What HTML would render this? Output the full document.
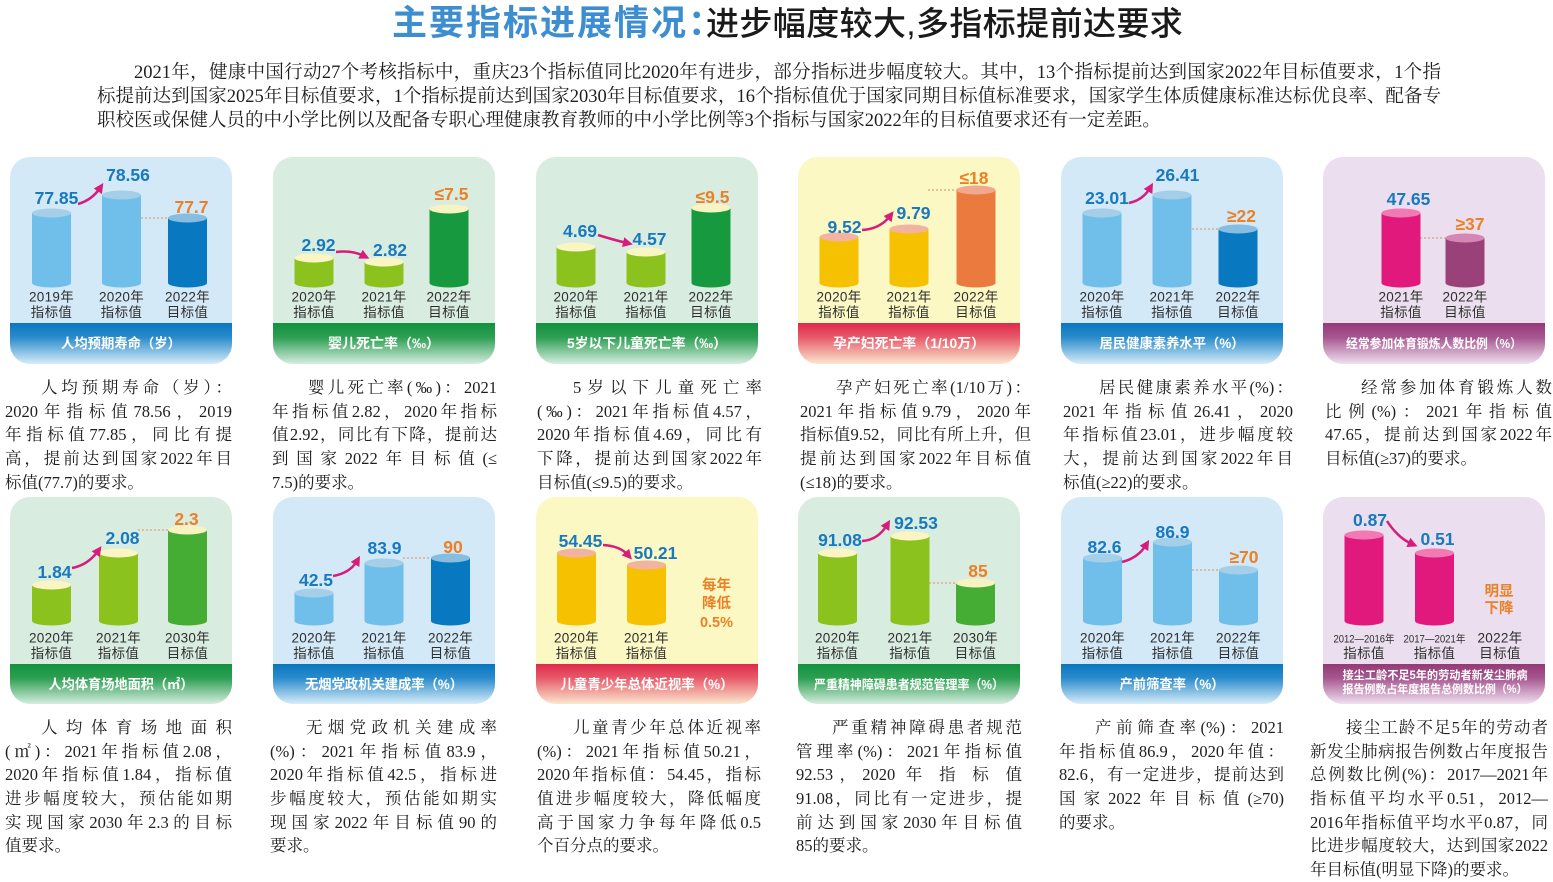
<!DOCTYPE html>
<html lang="zh-CN">
<head>
<meta charset="utf-8">
<style>
html,body{margin:0;padding:0;background:#fff;}
body{width:1553px;height:879px;position:relative;overflow:hidden;}
svg{position:absolute;left:0;top:0;}
.t1{position:absolute;left:392px;top:-3px;font-family:"Noto Sans CJK SC",sans-serif;font-weight:700;font-size:35px;line-height:48px;color:#3d8ed0;letter-spacing:2px;white-space:nowrap;}
.t2{position:absolute;left:706px;top:0px;font-family:"Liberation Sans","Noto Sans CJK SC",sans-serif;font-weight:500;font-size:33px;line-height:48px;color:#1a1a1a;letter-spacing:0.4px;white-space:nowrap;}
.p{position:absolute;left:97px;top:61px;width:1344px;font-size:18.5px;color:#1e1e1e;font-family:"Liberation Serif","Noto Serif CJK SC",serif;}
.ln{height:24px;line-height:24px;white-space:nowrap;text-align:justify;text-align-last:justify;}
.ln.l{text-align-last:left;}
.p .ind{padding-left:37px;}
.col{position:absolute;font-size:16.5px;color:#1e1e1e;font-family:"Liberation Serif","Noto Serif CJK SC",serif;}
.col .ln{height:23.7px;line-height:23.7px;}
.col .ind{padding-left:36px;}
.r1{top:376px;}
.r2{top:716px;}
.ax text{font-family:"Liberation Sans","Noto Sans CJK SC",sans-serif;font-size:13.5px;fill:#2e2e2e;text-anchor:middle;letter-spacing:0.3px;}
.vb,.vo{font-family:"Liberation Sans","Noto Sans CJK SC",sans-serif;font-size:17.5px;font-weight:bold;text-anchor:middle;}
.vb{fill:#1879bf;}
.vo{fill:#ea8127;}
.vc{font-family:"Liberation Sans","Noto Sans CJK SC",sans-serif;font-size:14.5px;font-weight:bold;text-anchor:middle;fill:#ea8127;}
.bn{font-family:"Liberation Sans","Noto Sans CJK SC",sans-serif;font-size:13.5px;font-weight:bold;fill:#fff;text-anchor:middle;}
.dl{stroke:#d9a27c;stroke-width:1.3;stroke-dasharray:2 2;fill:none;}
.ar{stroke:#d81c7c;stroke-width:2.5;fill:none;}
</style>
</head>
<body>
<svg width="1553" height="879" viewBox="0 0 1553 879" xmlns="http://www.w3.org/2000/svg">
<defs>
<linearGradient id="bb" x1="0" y1="0" x2="0" y2="1"><stop offset="0" stop-color="#0a76bf"/><stop offset="0.35" stop-color="#2a8bcc"/><stop offset="1" stop-color="#d8edf9"/></linearGradient>
<linearGradient id="gg" x1="0" y1="0" x2="0" y2="1"><stop offset="0" stop-color="#12913e"/><stop offset="0.35" stop-color="#2d9f52"/><stop offset="1" stop-color="#d6ede0"/></linearGradient>
<linearGradient id="rr" x1="0" y1="0" x2="0" y2="1"><stop offset="0" stop-color="#de2a4b"/><stop offset="0.35" stop-color="#e75a6a"/><stop offset="1" stop-color="#fbe7cf"/></linearGradient>
<linearGradient id="pp" x1="0" y1="0" x2="0" y2="1"><stop offset="0" stop-color="#943a76"/><stop offset="0.35" stop-color="#a65690"/><stop offset="1" stop-color="#f0e1f0"/></linearGradient>
<marker id="ah" markerWidth="10" markerHeight="10" refX="4" refY="5" orient="auto" markerUnits="userSpaceOnUse"><path d="M0,0 L10,5 L0,10 Z" fill="#d81c7c"/></marker>
</defs>

<rect x="10" y="157" width="222" height="207" rx="20" fill="#d4e9f7"/>
<rect x="273" y="157" width="222" height="207" rx="20" fill="#d9ece0"/>
<rect x="536" y="157" width="222" height="207" rx="20" fill="#d9ece0"/>
<rect x="798" y="157" width="222" height="207" rx="20" fill="#fcf8c4"/>
<rect x="1061" y="157" width="222" height="207" rx="20" fill="#d4e9f7"/>
<rect x="1323" y="157" width="222" height="207" rx="20" fill="#ebdeee"/>
<rect x="10" y="497" width="222" height="207" rx="20" fill="#d9ece0"/>
<rect x="273" y="497" width="222" height="207" rx="20" fill="#d4e9f7"/>
<rect x="536" y="497" width="222" height="207" rx="20" fill="#fcf8c4"/>
<rect x="798" y="497" width="222" height="207" rx="20" fill="#d9ece0"/>
<rect x="1061" y="497" width="222" height="207" rx="20" fill="#d4e9f7"/>
<rect x="1323" y="497" width="222" height="207" rx="20" fill="#ebdeee"/>

<path d="M10 323 H232 V344 A20 20 0 0 1 212 364 H30 A20 20 0 0 1 10 344 Z" fill="url(#bb)"/>
<path d="M273 323 H495 V344 A20 20 0 0 1 475 364 H293 A20 20 0 0 1 273 344 Z" fill="url(#gg)"/>
<path d="M536 323 H758 V344 A20 20 0 0 1 738 364 H556 A20 20 0 0 1 536 344 Z" fill="url(#gg)"/>
<path d="M798 323 H1020 V344 A20 20 0 0 1 1000 364 H818 A20 20 0 0 1 798 344 Z" fill="url(#rr)"/>
<path d="M1061 323 H1283 V344 A20 20 0 0 1 1263 364 H1081 A20 20 0 0 1 1061 344 Z" fill="url(#bb)"/>
<path d="M1323 323 H1545 V344 A20 20 0 0 1 1525 364 H1343 A20 20 0 0 1 1323 344 Z" fill="url(#pp)"/>
<path d="M10 664 H232 V684 A20 20 0 0 1 212 704 H30 A20 20 0 0 1 10 684 Z" fill="url(#gg)"/>
<path d="M273 664 H495 V684 A20 20 0 0 1 475 704 H293 A20 20 0 0 1 273 684 Z" fill="url(#bb)"/>
<path d="M536 664 H758 V684 A20 20 0 0 1 738 704 H556 A20 20 0 0 1 536 684 Z" fill="url(#rr)"/>
<path d="M798 664 H1020 V684 A20 20 0 0 1 1000 704 H818 A20 20 0 0 1 798 684 Z" fill="url(#gg)"/>
<path d="M1061 664 H1283 V684 A20 20 0 0 1 1263 704 H1081 A20 20 0 0 1 1061 684 Z" fill="url(#bb)"/>
<path d="M1323 664 H1545 V684 A20 20 0 0 1 1525 704 H1343 A20 20 0 0 1 1323 684 Z" fill="url(#pp)"/>

<text class="bn" x="121" y="348" textLength="120" lengthAdjust="spacingAndGlyphs">人均预期寿命（岁）</text>
<text class="bn" x="384" y="348" textLength="112" lengthAdjust="spacingAndGlyphs">婴儿死亡率（‰）</text>
<text class="bn" x="647" y="348" textLength="160" lengthAdjust="spacingAndGlyphs">5岁以下儿童死亡率（‰）</text>
<text class="bn" x="909" y="348" textLength="152" lengthAdjust="spacingAndGlyphs">孕产妇死亡率（1/10万）</text>
<text class="bn" x="1172" y="348" textLength="145" lengthAdjust="spacingAndGlyphs">居民健康素养水平（%）</text>
<text class="bn" x="1434" y="348" style="font-size:12.5px" textLength="176" lengthAdjust="spacingAndGlyphs">经常参加体育锻炼人数比例（%）</text>
<text class="bn" x="121" y="689" textLength="145" lengthAdjust="spacingAndGlyphs">人均体育场地面积（㎡）</text>
<text class="bn" x="384" y="689" textLength="158" lengthAdjust="spacingAndGlyphs">无烟党政机关建成率（%）</text>
<text class="bn" x="647" y="689" textLength="173" lengthAdjust="spacingAndGlyphs">儿童青少年总体近视率（%）</text>
<text class="bn" x="909" y="689" style="font-size:12.5px" textLength="190" lengthAdjust="spacingAndGlyphs">严重精神障碍患者规范管理率（%）</text>
<text class="bn" x="1172" y="689" textLength="105" lengthAdjust="spacingAndGlyphs">产前筛查率（%）</text>
<text class="bn" x="1435" y="679" style="font-size:11.5px" textLength="185" lengthAdjust="spacingAndGlyphs">接尘工龄不足5年的劳动者新发尘肺病</text>
<text class="bn" x="1435" y="693" style="font-size:11.5px" textLength="185" lengthAdjust="spacingAndGlyphs">报告例数占年度报告总例数比例（%）</text>

<path class="dl" d="M141 218 H168"/>
<path class="dl" d="M928 190 H957"/>
<path class="dl" d="M1192 229 H1219"/>
<path class="dl" d="M1420 238 H1446"/>
<path class="dl" d="M138 530 H168"/>
<path class="dl" d="M403 558 H431"/>
<path class="dl" d="M929 583 H956"/>
<path class="dl" d="M1192 570 H1219"/>

<g>
<rect x="32" y="213" width="39" height="70" fill="#70bfeb"/><ellipse cx="51.5" cy="283" rx="19.5" ry="4.5" fill="#70bfeb"/><ellipse cx="51.5" cy="213" rx="19.5" ry="4.5" fill="#a5cfe8"/>
<rect x="102" y="195" width="39" height="88" fill="#70bfeb"/><ellipse cx="121.5" cy="283" rx="19.5" ry="4.5" fill="#70bfeb"/><ellipse cx="121.5" cy="195" rx="19.5" ry="4.5" fill="#a5cfe8"/>
<rect x="168" y="218" width="39" height="65" fill="#0878c0"/><ellipse cx="187.5" cy="283" rx="19.5" ry="4.5" fill="#0878c0"/><ellipse cx="187.5" cy="218" rx="19.5" ry="4.5" fill="#86bde0"/>

<rect x="294.5" y="258" width="39" height="25" fill="#8bc21e"/><ellipse cx="314" cy="283" rx="19.5" ry="4.5" fill="#8bc21e"/><ellipse cx="314" cy="258" rx="19.5" ry="4.5" fill="#faf5c2"/>
<rect x="364.5" y="262" width="39" height="21" fill="#8bc21e"/><ellipse cx="384" cy="283" rx="19.5" ry="4.5" fill="#8bc21e"/><ellipse cx="384" cy="262" rx="19.5" ry="4.5" fill="#faf5c2"/>
<rect x="429.5" y="209" width="39" height="74" fill="#179a3f"/><ellipse cx="449" cy="283" rx="19.5" ry="4.5" fill="#179a3f"/><ellipse cx="449" cy="209" rx="19.5" ry="4.5" fill="#f7f4c3"/>

<rect x="556.5" y="247" width="39" height="36" fill="#8bc21e"/><ellipse cx="576" cy="283" rx="19.5" ry="4.5" fill="#8bc21e"/><ellipse cx="576" cy="247" rx="19.5" ry="4.5" fill="#faf5c2"/>
<rect x="626.5" y="252" width="39" height="31" fill="#8bc21e"/><ellipse cx="646" cy="283" rx="19.5" ry="4.5" fill="#8bc21e"/><ellipse cx="646" cy="252" rx="19.5" ry="4.5" fill="#faf5c2"/>
<rect x="691.5" y="208" width="39" height="75" fill="#179a3f"/><ellipse cx="711" cy="283" rx="19.5" ry="4.5" fill="#179a3f"/><ellipse cx="711" cy="208" rx="19.5" ry="4.5" fill="#f7f4c3"/>

<rect x="819.5" y="237" width="39" height="46" fill="#f6c100"/><ellipse cx="839" cy="283" rx="19.5" ry="4.5" fill="#f6c100"/><ellipse cx="839" cy="237" rx="19.5" ry="4.5" fill="#f2b3a0"/>
<rect x="889.5" y="229" width="39" height="54" fill="#f6c100"/><ellipse cx="909" cy="283" rx="19.5" ry="4.5" fill="#f6c100"/><ellipse cx="909" cy="229" rx="19.5" ry="4.5" fill="#f2b3a0"/>
<rect x="956.5" y="190" width="39" height="93" fill="#eb7a3f"/><ellipse cx="976" cy="283" rx="19.5" ry="4.5" fill="#eb7a3f"/><ellipse cx="976" cy="190" rx="19.5" ry="4.5" fill="#f2a88c"/>

<rect x="1082.5" y="213" width="39" height="70" fill="#70bfeb"/><ellipse cx="1102" cy="283" rx="19.5" ry="4.5" fill="#70bfeb"/><ellipse cx="1102" cy="213" rx="19.5" ry="4.5" fill="#a5cfe8"/>
<rect x="1152.5" y="195" width="39" height="88" fill="#70bfeb"/><ellipse cx="1172" cy="283" rx="19.5" ry="4.5" fill="#70bfeb"/><ellipse cx="1172" cy="195" rx="19.5" ry="4.5" fill="#a5cfe8"/>
<rect x="1218.5" y="229" width="39" height="54" fill="#0878c0"/><ellipse cx="1238" cy="283" rx="19.5" ry="4.5" fill="#0878c0"/><ellipse cx="1238" cy="229" rx="19.5" ry="4.5" fill="#86bde0"/>

<rect x="1381.5" y="213" width="39" height="70" fill="#e2197c"/><ellipse cx="1401" cy="283" rx="19.5" ry="4.5" fill="#e2197c"/><ellipse cx="1401" cy="213" rx="19.5" ry="4.5" fill="#f17ab4"/>
<rect x="1445.5" y="238" width="39" height="45" fill="#9b417a"/><ellipse cx="1465" cy="283" rx="19.5" ry="4.5" fill="#9b417a"/><ellipse cx="1465" cy="238" rx="19.5" ry="4.5" fill="#d586b5"/>
</g>

<g>
<rect x="32" y="585" width="39" height="36" fill="#8bc21e"/><ellipse cx="51.5" cy="621" rx="19.5" ry="4.5" fill="#8bc21e"/><ellipse cx="51.5" cy="585" rx="19.5" ry="4.5" fill="#faf5c2"/>
<rect x="99" y="553" width="39" height="68" fill="#8bc21e"/><ellipse cx="118.5" cy="621" rx="19.5" ry="4.5" fill="#8bc21e"/><ellipse cx="118.5" cy="553" rx="19.5" ry="4.5" fill="#faf5c2"/>
<rect x="168" y="530" width="39" height="91" fill="#45ac34"/><ellipse cx="187.5" cy="621" rx="19.5" ry="4.5" fill="#45ac34"/><ellipse cx="187.5" cy="530" rx="19.5" ry="4.5" fill="#f6f3c0"/>

<rect x="294.5" y="593" width="39" height="28" fill="#70bfeb"/><ellipse cx="314" cy="621" rx="19.5" ry="4.5" fill="#70bfeb"/><ellipse cx="314" cy="593" rx="19.5" ry="4.5" fill="#a5cfe8"/>
<rect x="364.5" y="563" width="39" height="58" fill="#70bfeb"/><ellipse cx="384" cy="621" rx="19.5" ry="4.5" fill="#70bfeb"/><ellipse cx="384" cy="563" rx="19.5" ry="4.5" fill="#a5cfe8"/>
<rect x="431" y="558" width="39" height="63" fill="#0878c0"/><ellipse cx="450.5" cy="621" rx="19.5" ry="4.5" fill="#0878c0"/><ellipse cx="450.5" cy="558" rx="19.5" ry="4.5" fill="#86bde0"/>

<rect x="557" y="553" width="39" height="68" fill="#f6c100"/><ellipse cx="576.5" cy="621" rx="19.5" ry="4.5" fill="#f6c100"/><ellipse cx="576.5" cy="553" rx="19.5" ry="4.5" fill="#f2b3a0"/>
<rect x="627" y="565" width="39" height="56" fill="#f6c100"/><ellipse cx="646.5" cy="621" rx="19.5" ry="4.5" fill="#f6c100"/><ellipse cx="646.5" cy="565" rx="19.5" ry="4.5" fill="#f2b3a0"/>

<rect x="818" y="553" width="39" height="68" fill="#8bc21e"/><ellipse cx="837.5" cy="621" rx="19.5" ry="4.5" fill="#8bc21e"/><ellipse cx="837.5" cy="553" rx="19.5" ry="4.5" fill="#faf5c2"/>
<rect x="890.5" y="536" width="39" height="85" fill="#8bc21e"/><ellipse cx="910" cy="621" rx="19.5" ry="4.5" fill="#8bc21e"/><ellipse cx="910" cy="536" rx="19.5" ry="4.5" fill="#faf5c2"/>
<rect x="956" y="583" width="39" height="38" fill="#45ac34"/><ellipse cx="975.5" cy="621" rx="19.5" ry="4.5" fill="#45ac34"/><ellipse cx="975.5" cy="583" rx="19.5" ry="4.5" fill="#f6f3c0"/>

<rect x="1083" y="558" width="39" height="63" fill="#70bfeb"/><ellipse cx="1102.5" cy="621" rx="19.5" ry="4.5" fill="#70bfeb"/><ellipse cx="1102.5" cy="558" rx="19.5" ry="4.5" fill="#a5cfe8"/>
<rect x="1153" y="542" width="39" height="79" fill="#70bfeb"/><ellipse cx="1172.5" cy="621" rx="19.5" ry="4.5" fill="#70bfeb"/><ellipse cx="1172.5" cy="542" rx="19.5" ry="4.5" fill="#a5cfe8"/>
<rect x="1219" y="570" width="39" height="51" fill="#70bfeb"/><ellipse cx="1238.5" cy="621" rx="19.5" ry="4.5" fill="#70bfeb"/><ellipse cx="1238.5" cy="570" rx="19.5" ry="4.5" fill="#a5cfe8"/>

<rect x="1344.5" y="535" width="39" height="86" fill="#e2197c"/><ellipse cx="1364" cy="621" rx="19.5" ry="4.5" fill="#e2197c"/><ellipse cx="1364" cy="535" rx="19.5" ry="4.5" fill="#f17ab4"/>
<rect x="1415" y="553" width="39" height="68" fill="#e2197c"/><ellipse cx="1434.5" cy="621" rx="19.5" ry="4.5" fill="#e2197c"/><ellipse cx="1434.5" cy="553" rx="19.5" ry="4.5" fill="#f17ab4"/>
</g>

<path class="ar" d="M78 204 Q92 200 100 188" marker-end="url(#ah)"/>
<path class="ar" d="M336 252 Q352 250 364 256" marker-end="url(#ah)"/>
<path class="ar" d="M598 235 Q614 240 627 243" marker-end="url(#ah)"/>
<path class="ar" d="M862 230 Q880 229 890 216" marker-end="url(#ah)"/>
<path class="ar" d="M1129 203 Q1143 200 1150 188" marker-end="url(#ah)"/>
<path class="ar" d="M72 568 Q88 565 98 551" marker-end="url(#ah)"/>
<path class="ar" d="M333 576 Q350 573 357 561" marker-end="url(#ah)"/>
<path class="ar" d="M603 545 Q620 546 628 555" marker-end="url(#ah)"/>
<path class="ar" d="M862 541 Q878 540 887 525" marker-end="url(#ah)"/>
<path class="ar" d="M1122 562 Q1138 558 1146 545" marker-end="url(#ah)"/>
<path class="ar" d="M1387 521 Q1398 538 1412 544" marker-end="url(#ah)"/>

<text class="vb" x="56.5" y="204">77.85</text>
<text class="vb" x="128" y="181">78.56</text>
<text class="vo" x="191.5" y="213">77.7</text>

<text class="vb" x="318.5" y="251">2.92</text>
<text class="vb" x="390" y="256">2.82</text>
<text class="vo" x="451.5" y="200">≤7.5</text>

<text class="vb" x="580" y="237">4.69</text>
<text class="vb" x="649.5" y="245">4.57</text>
<text class="vo" x="712.5" y="203">≤9.5</text>

<text class="vb" x="844.5" y="233">9.52</text>
<text class="vb" x="913.5" y="219">9.79</text>
<text class="vo" x="974" y="184">≤18</text>

<text class="vb" x="1107" y="204">23.01</text>
<text class="vb" x="1177.5" y="181">26.41</text>
<text class="vo" x="1241.5" y="222">≥22</text>

<text class="vb" x="1408.5" y="205">47.65</text>
<text class="vo" x="1470" y="230">≥37</text>

<text class="vb" x="54.5" y="578">1.84</text>
<text class="vb" x="122.5" y="544">2.08</text>
<text class="vo" x="186.5" y="525">2.3</text>

<text class="vb" x="316" y="586">42.5</text>
<text class="vb" x="384.5" y="554">83.9</text>
<text class="vo" x="453" y="553">90</text>

<text class="vb" x="580.5" y="547">54.45</text>
<text class="vb" x="655.5" y="559">50.21</text>
<text class="vc" x="716.5" y="590">每年</text>
<text class="vc" x="716.5" y="608">降低</text>
<text class="vc" x="716.5" y="627">0.5%</text>

<text class="vb" x="840" y="546">91.08</text>
<text class="vb" x="916" y="529">92.53</text>
<text class="vo" x="978" y="577">85</text>

<text class="vb" x="1104.5" y="553">82.6</text>
<text class="vb" x="1172.5" y="538">86.9</text>
<text class="vo" x="1244" y="563">≥70</text>

<text class="vb" x="1370" y="526">0.87</text>
<text class="vb" x="1437.5" y="545">0.51</text>
<text class="vc" x="1499" y="596">明显</text>
<text class="vc" x="1499" y="613">下降</text>

<g class="ax">
<text x="51.5" y="301.5">2019年</text><text x="51.5" y="317">指标值</text>
<text x="121.5" y="301.5">2020年</text><text x="121.5" y="317">指标值</text>
<text x="187.5" y="301.5">2022年</text><text x="187.5" y="317">目标值</text>

<text x="314" y="301.5">2020年</text><text x="314" y="317">指标值</text>
<text x="384" y="301.5">2021年</text><text x="384" y="317">指标值</text>
<text x="449" y="301.5">2022年</text><text x="449" y="317">目标值</text>

<text x="576" y="301.5">2020年</text><text x="576" y="317">指标值</text>
<text x="646" y="301.5">2021年</text><text x="646" y="317">指标值</text>
<text x="711" y="301.5">2022年</text><text x="711" y="317">目标值</text>

<text x="839" y="301.5">2020年</text><text x="839" y="317">指标值</text>
<text x="909" y="301.5">2021年</text><text x="909" y="317">指标值</text>
<text x="976" y="301.5">2022年</text><text x="976" y="317">目标值</text>

<text x="1102" y="301.5">2020年</text><text x="1102" y="317">指标值</text>
<text x="1172" y="301.5">2021年</text><text x="1172" y="317">指标值</text>
<text x="1238" y="301.5">2022年</text><text x="1238" y="317">目标值</text>

<text x="1401" y="301.5">2021年</text><text x="1401" y="317">指标值</text>
<text x="1465" y="301.5">2022年</text><text x="1465" y="317">目标值</text>
</g>

<g class="ax">
<text x="51.5" y="642.5">2020年</text><text x="51.5" y="658">指标值</text>
<text x="118.5" y="642.5">2021年</text><text x="118.5" y="658">指标值</text>
<text x="187.5" y="642.5">2030年</text><text x="187.5" y="658">目标值</text>

<text x="314" y="642.5">2020年</text><text x="314" y="658">指标值</text>
<text x="384" y="642.5">2021年</text><text x="384" y="658">指标值</text>
<text x="450.5" y="642.5">2022年</text><text x="450.5" y="658">目标值</text>

<text x="576.5" y="642.5">2020年</text><text x="576.5" y="658">指标值</text>
<text x="646.5" y="642.5">2021年</text><text x="646.5" y="658">指标值</text>

<text x="837.5" y="642.5">2020年</text><text x="837.5" y="658">指标值</text>
<text x="910" y="642.5">2021年</text><text x="910" y="658">指标值</text>
<text x="975.5" y="642.5">2030年</text><text x="975.5" y="658">目标值</text>

<text x="1102.5" y="642.5">2020年</text><text x="1102.5" y="658">指标值</text>
<text x="1172.5" y="642.5">2021年</text><text x="1172.5" y="658">指标值</text>
<text x="1238.5" y="642.5">2022年</text><text x="1238.5" y="658">目标值</text>

<text x="1364" y="642.5" style="font-size:11px;letter-spacing:0" textLength="61" lengthAdjust="spacingAndGlyphs">2012—2016年</text><text x="1364" y="658">指标值</text>
<text x="1434.5" y="642.5" style="font-size:11px;letter-spacing:0" textLength="62" lengthAdjust="spacingAndGlyphs">2017—2021年</text><text x="1434.5" y="658">指标值</text>
<text x="1500" y="642.5">2022年</text><text x="1500" y="658">目标值</text>
</g>
</svg>

<div class="t1">主要指标进展情况：</div>
<div class="t2">进步幅度较大,多指标提前达要求</div>

<div class="p">
<div class="ln ind">2021年，健康中国行动27个考核指标中，重庆23个指标值同比2020年有进步，部分指标进步幅度较大。其中，13个指标提前达到国家2022年目标值要求，1个指</div>
<div class="ln">标提前达到国家2025年目标值要求，1个指标提前达到国家2030年目标值要求，16个指标值优于国家同期目标值标准要求，国家学生体质健康标准达标优良率、配备专</div>
<div class="ln l">职校医或保健人员的中小学比例以及配备专职心理健康教育教师的中小学比例等3个指标与国家2022年的目标值要求还有一定差距。</div>
</div>

<div class="col r1" style="left:5px;width:227px;">
<div class="ln ind">人均预期寿命（岁）：</div>
<div class="ln">2020年指标值78.56，2019</div>
<div class="ln">年指标值77.85，同比有提</div>
<div class="ln">高，提前达到国家2022年目</div>
<div class="ln l">标值(77.7)的要求。</div>
</div>
<div class="col r1" style="left:272px;width:225px;">
<div class="ln ind">婴儿死亡率(‰)：2021</div>
<div class="ln">年指标值2.82，2020年指标</div>
<div class="ln">值2.92，同比有下降，提前达</div>
<div class="ln">到国家2022年目标值(≤</div>
<div class="ln l">7.5)的要求。</div>
</div>
<div class="col r1" style="left:537px;width:225px;">
<div class="ln ind">5岁以下儿童死亡率</div>
<div class="ln">(‰)：2021年指标值4.57，</div>
<div class="ln">2020年指标值4.69，同比有</div>
<div class="ln">下降，提前达到国家2022年</div>
<div class="ln l">目标值(≤9.5)的要求。</div>
</div>
<div class="col r1" style="left:800px;width:231px;">
<div class="ln ind">孕产妇死亡率(1/10万)：</div>
<div class="ln">2021年指标值9.79，2020年</div>
<div class="ln">指标值9.52，同比有所上升，但</div>
<div class="ln">提前达到国家2022年目标值</div>
<div class="ln l">(≤18)的要求。</div>
</div>
<div class="col r1" style="left:1063px;width:230px;">
<div class="ln ind">居民健康素养水平(%)：</div>
<div class="ln">2021年指标值26.41，2020</div>
<div class="ln">年指标值23.01，进步幅度较</div>
<div class="ln">大，提前达到国家2022年目</div>
<div class="ln l">标值(≥22)的要求。</div>
</div>
<div class="col r1" style="left:1325px;width:227px;">
<div class="ln ind">经常参加体育锻炼人数</div>
<div class="ln">比例(%)：2021年指标值</div>
<div class="ln">47.65，提前达到国家2022年</div>
<div class="ln l">目标值(≥37)的要求。</div>
</div>

<div class="col r2" style="left:5px;width:227px;">
<div class="ln ind">人均体育场地面积</div>
<div class="ln">(㎡)：2021年指标值2.08，</div>
<div class="ln">2020年指标值1.84，指标值</div>
<div class="ln">进步幅度较大，预估能如期</div>
<div class="ln">实现国家2030年2.3的目标</div>
<div class="ln l">值要求。</div>
</div>
<div class="col r2" style="left:270px;width:227px;">
<div class="ln ind">无烟党政机关建成率</div>
<div class="ln">(%)：2021年指标值83.9，</div>
<div class="ln">2020年指标值42.5，指标进</div>
<div class="ln">步幅度较大，预估能如期实</div>
<div class="ln">现国家2022年目标值90的</div>
<div class="ln l">要求。</div>
</div>
<div class="col r2" style="left:537px;width:224px;">
<div class="ln ind">儿童青少年总体近视率</div>
<div class="ln">(%)：2021年指标值50.21，</div>
<div class="ln">2020年指标值：54.45，指标</div>
<div class="ln">值进步幅度较大，降低幅度</div>
<div class="ln">高于国家力争每年降低0.5</div>
<div class="ln l">个百分点的要求。</div>
</div>
<div class="col r2" style="left:796px;width:226px;">
<div class="ln ind">严重精神障碍患者规范</div>
<div class="ln">管理率(%)：2021年指标值</div>
<div class="ln">92.53，2020 年 指 标 值</div>
<div class="ln">91.08，同比有一定进步，提</div>
<div class="ln">前达到国家2030年目标值</div>
<div class="ln l">85的要求。</div>
</div>
<div class="col r2" style="left:1059px;width:225px;">
<div class="ln ind">产前筛查率(%)：2021</div>
<div class="ln">年指标值86.9，2020年值：</div>
<div class="ln">82.6，有一定进步，提前达到</div>
<div class="ln">国家2022年目标值(≥70)</div>
<div class="ln l">的要求。</div>
</div>
<div class="col r2" style="left:1310px;width:238px;">
<div class="ln ind">接尘工龄不足5年的劳动者</div>
<div class="ln">新发尘肺病报告例数占年度报告</div>
<div class="ln">总例数比例(%)：2017—2021年</div>
<div class="ln">指标值平均水平0.51，2012—</div>
<div class="ln">2016年指标值平均水平0.87，同</div>
<div class="ln">比进步幅度较大，达到国家2022</div>
<div class="ln l">年目标值(明显下降)的要求。</div>
</div>

<script>
(function(){
  var els=document.querySelectorAll('.ln');
  for(var i=0;i<els.length;i++){
    var e=els[i];
    var cw=e.clientWidth, sw=e.scrollWidth;
    if(sw>cw+0.5){
      var r=cw/sw;
      e.style.width=sw+'px';
      e.style.transformOrigin='0 0';
      e.style.transform='scaleX('+r+')';
    }
  }
})();
</script>
</body>
</html>
